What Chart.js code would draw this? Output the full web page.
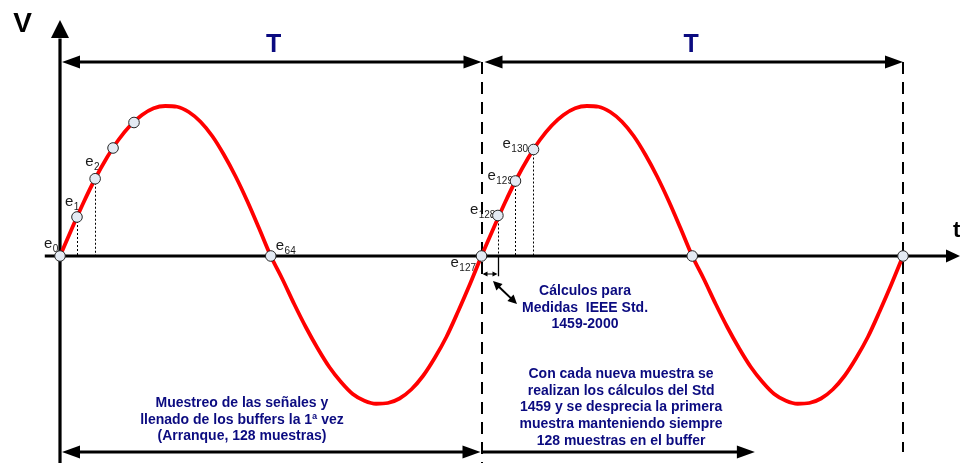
<!DOCTYPE html>
<html>
<head>
<meta charset="utf-8">
<script src="https://cdn.jsdelivr.net/npm/chart.js@4/dist/chart.umd.min.js"></script>
<style>
  html, body { margin: 0; padding: 0; background: #fff; overflow: hidden; }
  #wrap { width: 960px; height: 463px; }
</style>
</head>
<body>
<div id="wrap"><canvas id="c" width="960" height="463"></canvas></div>
<script>
// Phase angle (degrees) across two periods of the sampled voltage
const phaseDeg = [0, 10, 20, 30, 40, 50, 60, 70, 80, 90, 100, 110, 120, 130, 140, 150, 160, 170, 180,
  190, 200, 210, 220, 230, 240, 250, 260, 270, 280, 290, 300, 310, 320, 330, 340, 350, 360,
  370, 380, 390, 400, 410, 420, 430, 440, 450, 460, 470, 480, 490, 500, 510, 520, 530, 540,
  550, 560, 570, 580, 590, 600, 610, 620, 630, 640, 650, 660, 670, 680, 690, 700, 710, 720];
// Instantaneous voltage (per unit) at each phase angle
const voltage = [0, 0.18, 0.355, 0.515, 0.655, 0.775, 0.87, 0.94, 0.985, 1.0, 0.995, 0.96, 0.895, 0.8, 0.675, 0.53, 0.365, 0.185, 0,
  -0.155, -0.32, -0.475, -0.615, -0.74, -0.84, -0.92, -0.965, -0.985, -0.98, -0.95, -0.89, -0.8, -0.68, -0.54, -0.37, -0.19, 0,
  0.18, 0.355, 0.515, 0.655, 0.775, 0.87, 0.94, 0.985, 1.0, 0.995, 0.96, 0.895, 0.8, 0.675, 0.53, 0.365, 0.185, 0,
  -0.155, -0.32, -0.475, -0.615, -0.74, -0.84, -0.92, -0.965, -0.985, -0.98, -0.95, -0.89, -0.8, -0.68, -0.54, -0.37, -0.19, 0];

// Sample marks on the waveform
const sampleDeg   = [0, 14.5, 30, 45.3, 63.2, 180, 360, 374, 389, 404.4, 540, 720];
const sampleVolts = [0, 0.26, 0.515, 0.72, 0.89, 0, 0, 0.27, 0.5, 0.71, 0, 0];
const sampleIndex = ['0', '1', '2', '', '', '64', '127', '128', '129', '130', '', ''];
// Samples that get a dotted drop line to the time axis
const dropLineSamples = [1, 2, 7, 8, 9];

// Period boundaries (degrees)
const periodBounds = [0, 360, 720];
const periodLabel = 'T';
const axisLabelV = 'V';
const axisLabelT = 't';

const noteCalc = ['Cálculos para', 'Medidas  IEEE Std.', '1459-2000'];
const noteRolling = ['Con cada nueva muestra se', 'realizan los cálculos del Std',
  '1459 y se desprecia la primera', 'muestra manteniendo siempre', '128 muestras en el buffer'];
const noteStartup = ['Muestreo de las señales y', 'llenado de los buffers la 1ª vez',
  '(Arranque, 128 muestras)'];

const FONT = "'Liberation Sans', Arial, Helvetica, sans-serif";
const NAVY = '#0b0b80';

function seg(ctx, x1, y1, x2, y2) {
  ctx.beginPath(); ctx.moveTo(x1, y1); ctx.lineTo(x2, y2); ctx.stroke();
}
// filled arrowhead with its tip at (tx,ty) pointing along (dx,dy)
function head(ctx, tx, ty, dx, dy, len, half) {
  const n = Math.hypot(dx, dy); dx /= n; dy /= n;
  const bx = tx - dx * len, by = ty - dy * len;
  ctx.beginPath();
  ctx.moveTo(tx, ty);
  ctx.lineTo(bx - dy * half, by + dx * half);
  ctx.lineTo(bx + dy * half, by - dx * half);
  ctx.closePath(); ctx.fill();
}
function hArrow(ctx, x1, x2, yy, leftHead, rightHead, w, len, half) {
  ctx.lineWidth = w;
  seg(ctx, x1 + (leftHead ? len - 2 : 0), yy, x2 - (rightHead ? len - 2 : 0), yy);
  if (leftHead) head(ctx, x1, yy, -1, 0, len, half);
  if (rightHead) head(ctx, x2, yy, 1, 0, len, half);
}

const diagramPlugin = {
  id: 'diagram',
  beforeDatasetsDraw(chart) {
    const { ctx, scales } = chart;
    const X = v => scales.x.getPixelForValue(v);
    const Y = v => scales.y.getPixelForValue(v);
    ctx.save();
    ctx.strokeStyle = '#000'; ctx.fillStyle = '#000';

    // dashed period boundaries
    ctx.lineWidth = 2; ctx.setLineDash([12, 8]);
    seg(ctx, Math.round(X(periodBounds[1])), Y(1.293), Math.round(X(periodBounds[1])), Y(-1.38));
    seg(ctx, Math.round(X(periodBounds[2])), Y(1.293), Math.round(X(periodBounds[2])), Y(-1.307));
    ctx.setLineDash([]);

    // time axis and voltage axis
    const y0 = Y(0), x0 = X(0);
    ctx.lineWidth = 3.2;
    seg(ctx, X(-13), y0, X(758), y0);
    head(ctx, X(768.7), y0, 1, 0, 14, 6.5);
    seg(ctx, x0, Y(-1.38), x0, Y(1.45));
    head(ctx, x0, Y(1.573), 0, -1, 18, 9);

    // dotted drop lines from samples to the time axis
    ctx.lineWidth = 1; ctx.setLineDash([2, 2]);
    dropLineSamples.forEach(i => {
      const px = Math.round(X(sampleDeg[i])) + 0.5;
      seg(ctx, px, Y(sampleVolts[i]), px, y0);
    });
    ctx.setLineDash([]);

    // interval between e127 and e128
    const xa = X(periodBounds[1]), xb = Math.round(X(sampleDeg[7])) + 0.5;
    ctx.lineWidth = 1.3;
    seg(ctx, xb, y0, xb, Y(-0.135));
    const yb = Y(-0.12);
    ctx.lineWidth = 1;
    seg(ctx, xa + 3, yb, xb - 3, yb);
    head(ctx, xa + 1, yb, -1, 0, 5, 2.5);
    head(ctx, xb - 1, yb, 1, 0, 5, 2.5);

    // sample names
    ctx.fillStyle = '#1a1a1a'; ctx.textAlign = 'left'; ctx.textBaseline = 'alphabetic';
    const off = { 0: [-16, -8], 1: [-12, -11], 2: [-10, -13], 5: [5, -6],
                  6: [-31, 11], 7: [-28, -2], 8: [-28, -1], 9: [-31, -2] };
    sampleIndex.forEach((s, i) => {
      if (!s) return;
      const mx = X(sampleDeg[i]) + off[i][0], my = Y(sampleVolts[i]) + off[i][1];
      ctx.font = '15px ' + FONT;
      ctx.fillText('e', mx, my);
      const w = ctx.measureText('e').width;
      ctx.font = '10px ' + FONT;
      ctx.fillText(s, mx + w + 0.5, my + 4);
    });
    ctx.restore();
  },
  afterDatasetsDraw(chart) {
    const { ctx, scales } = chart;
    const X = v => scales.x.getPixelForValue(v);
    const Y = v => scales.y.getPixelForValue(v);
    ctx.save();
    ctx.strokeStyle = '#000'; ctx.fillStyle = '#000';

    // period arrows
    const yt = Y(1.293);
    hArrow(ctx, X(periodBounds[0]) + 2, X(periodBounds[1]), yt, true, true, 3, 18, 6.5);
    hArrow(ctx, X(periodBounds[1]) + 3, X(periodBounds[2]), yt, true, true, 3, 18, 6.5);
    // buffer arrows
    const ybm = Y(-1.307);
    hArrow(ctx, X(periodBounds[0]) + 2, X(periodBounds[1]) - 1, ybm, true, true, 3, 18, 6.5);
    hArrow(ctx, X(periodBounds[1]), X(593.5), ybm, false, true, 3, 18, 6.5);

    // arrow pointing at the e127-e128 interval
    ctx.lineWidth = 2;
    const ax1 = X(369.8), ay1 = Y(-0.167), ax2 = X(390.3), ay2 = Y(-0.32);
    const dx = ax2 - ax1, dy = ay2 - ay1, n = Math.hypot(dx, dy);
    seg(ctx, ax1 + dx / n * 6, ay1 + dy / n * 6, ax2 - dx / n * 6, ay2 - dy / n * 6);
    head(ctx, ax1, ay1, -dx, -dy, 9, 4.5);
    head(ctx, ax2, ay2, dx, dy, 9, 4.5);

    // axis names
    ctx.textAlign = 'center'; ctx.textBaseline = 'alphabetic';
    ctx.font = 'bold 28px ' + FONT;
    ctx.fillText(axisLabelV, X(-32), Y(1.493));
    ctx.textAlign = 'left';
    ctx.font = 'bold 22px ' + FONT;
    ctx.fillText(axisLabelT, X(762.7), Y(0.127));

    // period labels
    ctx.fillStyle = NAVY; ctx.textAlign = 'center';
    ctx.font = 'bold 25px ' + FONT;
    ctx.fillText(periodLabel, (X(periodBounds[0]) + X(periodBounds[1])) / 2 + 3, Y(1.36));
    ctx.fillText(periodLabel, (X(periodBounds[1]) + X(periodBounds[2])) / 2 - 1, Y(1.36));

    // notes
    ctx.font = 'bold 14px ' + FONT;
    const block = (lines, cx, by) => lines.forEach((t, i) => ctx.fillText(t, X(cx), Y(by) + i * 16.7));
    block(noteCalc, 448.4, -0.26);
    block(noteRolling, 479.2, -0.813);
    block(noteStartup, 155.4, -1.007);
    ctx.restore();
  }
};

new Chart(document.getElementById('c'), {
  type: 'line',
  data: {
    datasets: [
      {
        label: 'muestras',
        data: sampleDeg.map((d, i) => ({ x: d, y: sampleVolts[i] })),
        showLine: false,
        pointRadius: 5.3,
        pointHoverRadius: 5.3,
        pointBackgroundColor: '#e3eaf3',
        pointBorderColor: '#262626',
        pointBorderWidth: 1
      },
      {
        label: 'v(t)',
        data: phaseDeg.map((d, i) => ({ x: d, y: voltage[i] })),
        borderColor: '#ff0000',
        borderWidth: 3.8,
        pointRadius: 0,
        cubicInterpolationMode: 'monotone',
        fill: false
      }
    ]
  },
  options: {
    responsive: false,
    animation: false,
    events: [],
    devicePixelRatio: 1,
    layout: { padding: 0, autoPadding: false },
    plugins: { legend: { display: false }, tooltip: { enabled: false }, title: { display: false } },
    scales: {
      x: { type: 'linear', display: false, min: -51.25, max: 768.68 },
      y: { type: 'linear', display: false, min: -1.38, max: 1.70667 }
    }
  },
  plugins: [diagramPlugin]
});
</script>
</body>
</html>
